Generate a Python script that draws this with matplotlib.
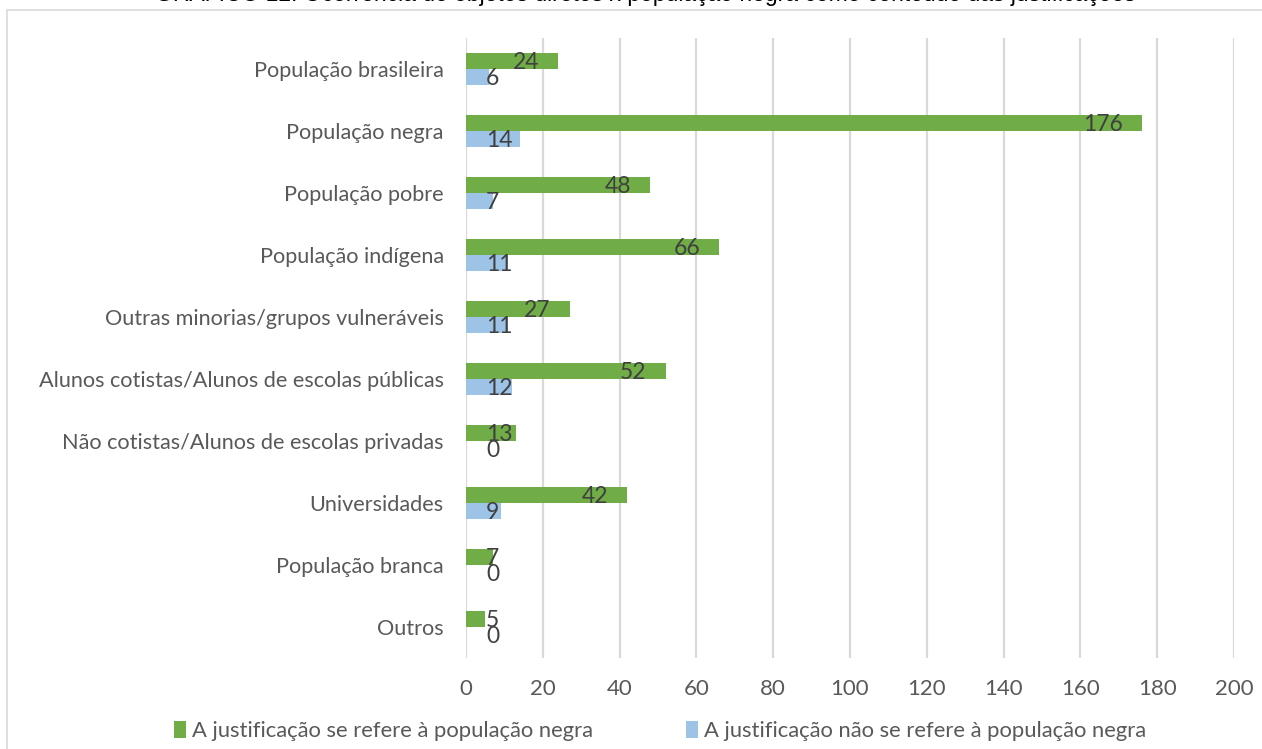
import matplotlib
matplotlib.use("Agg")
import matplotlib.pyplot as plt
from matplotlib.patches import Rectangle, Patch
import numpy as np

categories = [
    "População brasileira",
    "População negra",
    "População pobre",
    "População indígena",
    "Outras minorias/grupos vulneráveis",
    "Alunos cotistas/Alunos de escolas públicas",
    "Não cotistas/Alunos de escolas privadas",
    "Universidades",
    "População branca",
    "Outros",
]
refere = [24, 176, 48, 66, 27, 52, 13, 42, 7, 5]
nao_refere = [6, 14, 7, 11, 11, 12, 0, 9, 0, 0]
series_names = [
    "A justificação se refere à população negra",
    "A justificação não se refere à população negra",
]
xticks = [0, 20, 40, 60, 80, 100, 120, 140, 160, 180, 200]
title = "GRÁFICO 12: Ocorrência de objetos diretos x população negra como conteúdo das justificações"

GREEN = "#70AD47"
BLUE = "#9DC3E6"
TXT = "#595959"
LBL = "#404040"
FONT = "Lato"

W, H = 1262, 749
fig = plt.figure(figsize=(W / 100, H / 100), dpi=100)

# chart border
fig.patches.append(Rectangle((7 / W, -0.05), 1.2, 1 - 10 / H + 0.05, transform=fig.transFigure,
                             fill=False, edgecolor="#D9D9D9", linewidth=1.2))
fig.text(0.511, 1 - 1 / H, title, ha="center", va="baseline", fontsize=16.5,
         family="Liberation Sans", color="black")

ax = fig.add_axes([466 / W, 1 - 658 / H, (1234 - 466) / W, (658 - 38) / H])
y = np.arange(len(categories))
bh = 0.258
ax.barh(y - bh / 2, refere, height=bh, color=GREEN, zorder=3)
ax.barh(y + bh / 2, nao_refere, height=bh, color=BLUE, zorder=3)
ax.set_xlim(0, 200)
ax.set_ylim(len(categories) - 0.5, -0.5)
ax.set_xticks(xticks)
ax.set_xticklabels([str(t) for t in xticks], fontsize=16, color=TXT, family=FONT)
ax.set_yticks(y)
ax.set_yticklabels(categories, fontsize=15.6, color=TXT, family=FONT)
ax.tick_params(axis="both", length=0)
ax.tick_params(axis="x", pad=15)
ax.tick_params(axis="y", pad=16)
ax.grid(axis="x", color="#D9D9D9", linewidth=1.6, zorder=0)
for s in ax.spines.values():
    s.set_visible(False)

fig.canvas.draw()
renderer = fig.canvas.get_renderer()
px_per_unit = (1234 - 466) / 200.0
for vals, off in ((refere, -bh / 2), (nao_refere, bh / 2)):
    for i, v in enumerate(vals):
        t = ax.text(0, i + off + 0.03, str(v), fontsize=16.5, color=LBL, family=FONT,
                    ha="left", va="center", zorder=4)
        wpx = t.get_window_extent(renderer).width
        wunits = wpx / px_per_unit
        left = max(20 / px_per_unit, v - 19 / px_per_unit - wunits)
        t.set_x(left)

handles = [Patch(facecolor=GREEN), Patch(facecolor=BLUE)]
leg = fig.legend(handles, series_names, loc="center", bbox_to_anchor=(660 / W, 1 - 731 / H),
                 ncol=2, frameon=False, prop={"family": FONT, "size": 15.8},
                 handlelength=0.55, handleheight=0.8, handletextpad=0.3, columnspacing=4.2)
for t in leg.get_texts():
    t.set_color(TXT)

fig.savefig("out.png", dpi=100)
